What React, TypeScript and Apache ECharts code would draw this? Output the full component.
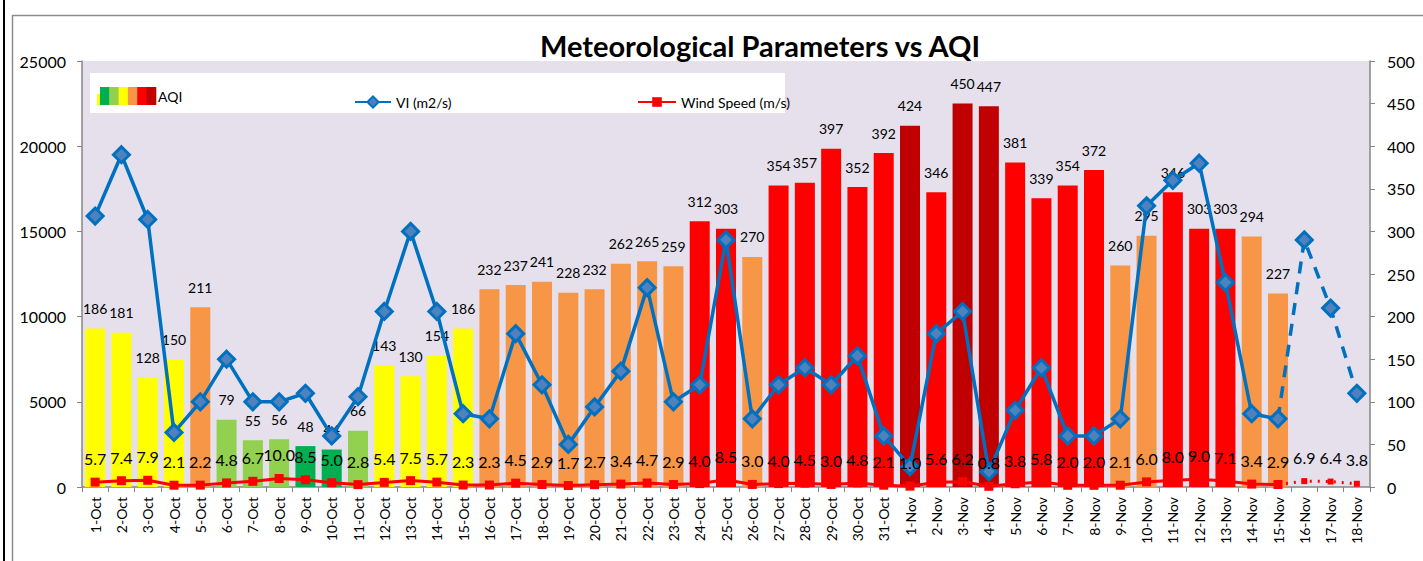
import React, { useEffect, useRef } from "react";
import * as echarts from "echarts";

const dates = [
  "1-Oct", "2-Oct", "3-Oct", "4-Oct", "5-Oct", "6-Oct", "7-Oct", "8-Oct", "9-Oct", "10-Oct",
  "11-Oct", "12-Oct", "13-Oct", "14-Oct", "15-Oct", "16-Oct", "17-Oct", "18-Oct", "19-Oct", "20-Oct",
  "21-Oct", "22-Oct", "23-Oct", "24-Oct", "25-Oct", "26-Oct", "27-Oct", "28-Oct", "29-Oct", "30-Oct",
  "31-Oct", "1-Nov", "2-Nov", "3-Nov", "4-Nov", "5-Nov", "6-Nov", "7-Nov", "8-Nov", "9-Nov",
  "10-Nov", "11-Nov", "12-Nov", "13-Nov", "14-Nov", "15-Nov", "16-Nov", "17-Nov", "18-Nov",
];

const aqi: (number | null)[] = [
  186, 181, 128, 150, 211, 79, 55, 56, 48, 44,
  66, 143, 130, 154, 186, 232, 237, 241, 228, 232,
  262, 265, 259, 312, 303, 270, 354, 357, 397, 352,
  392, 424, 346, 450, 447, 381, 339, 354, 372, 260,
  295, 346, 303, 303, 294, 227, null, null, null,
];

const vi = [
  15900, 19500, 15700, 3200, 5000, 7500, 5000, 5000, 5500, 3000,
  5300, 10300, 15000, 10300, 4300, 4000, 9000, 6000, 2500, 4700,
  6800, 11700, 5000, 6000, 14500, 4000, 6000, 7000, 6000, 7700,
  3000, 1200, 9000, 10300, 900, 4500, 7000, 3000, 3000, 4000,
  16500, 18000, 19000, 12000, 4300, 4000, 14500, 10500, 5500,
];

const wind = [
  5.7, 7.4, 7.9, 2.1, 2.2, 4.8, 6.7, 10.0, 8.5, 5.0,
  2.8, 5.4, 7.5, 5.7, 2.3, 2.3, 4.5, 2.9, 1.7, 2.7,
  3.4, 4.7, 2.9, 4.0, 8.5, 3.0, 4.0, 4.5, 3.0, 4.8,
  2.1, 1.0, 5.6, 6.2, 0.8, 3.8, 5.8, 2.0, 2.0, 2.1,
  6.0, 8.0, 9.0, 7.1, 3.4, 2.9, 6.9, 6.4, 3.8,
];

// index of the last observed day (15-Nov); later days are forecast
const lastObserved = 45;

const leftTicks = { min: 0, max: 25000, interval: 5000 };
const rightTicks = { min: 0, max: 500, interval: 50 };

const aqiColors = ["#00B050", "#92D050", "#FFFF00", "#F79646", "#FF0000", "#C00000"];
function aqiColor(v: number): string {
  if (v <= 50) return aqiColors[0];
  if (v <= 100) return aqiColors[1];
  if (v <= 200) return aqiColors[2];
  if (v <= 300) return aqiColors[3];
  if (v <= 400) return aqiColors[4];
  return aqiColors[5];
}

const FONT = "Lato, 'Open Sans', sans-serif";

export default function App() {
  const ref = useRef<HTMLDivElement>(null);
  useEffect(() => {
    if (!ref.current) return;
    const chart = echarts.init(ref.current, null, { renderer: "svg" });

    const barData = aqi.map((v) =>
      v == null ? null : { value: v, itemStyle: { color: aqiColor(v) } }
    );
    const viSolid = vi.map((v, i) => (i <= lastObserved ? v : null));
    const viDash = vi.map((v, i) =>
      i < lastObserved ? null : i === lastObserved ? { value: v, symbol: "none" } : v
    );
    const windSolid = wind.map((v, i) => (i <= lastObserved ? v : null));
    const windDot = wind.map((v, i) =>
      i < lastObserved
        ? null
        : i === lastObserved
        ? { value: v, symbol: "none", label: { show: false } }
        : v
    );

    const swatchX = 100;
    const swatchW = 9.3;
    const swatches = aqiColors.map((c, k) => ({
      type: "rect",
      z: 5,
      shape: { x: swatchX + k * swatchW, y: 87, width: swatchW + 0.5, height: 18 },
      style: { fill: c },
    }));

    const option: any = {
      animation: false,
      textStyle: { fontFamily: FONT },
      grid: {
        left: 82,
        right: 53,
        top: 61,
        bottom: 74,
        show: true,
        backgroundColor: "#E5E0EC",
        borderWidth: 0,
      },
      legend: [
        {
          data: ["VI (m2/s)"],
          left: 349,
          top: 90,
          itemWidth: 36,
          itemHeight: 14,
          itemGap: 5,
          textStyle: { fontSize: 14, color: "#000", fontFamily: FONT },
          z: 6,
        },
        {
          data: ["Wind Speed (m/s)"],
          left: 632,
          top: 90,
          itemWidth: 38,
          itemHeight: 12,
          textStyle: { fontSize: 14, color: "#000", fontFamily: FONT },
          z: 6,
        },
      ],
      graphic: [
        {
          type: "line",
          z: 10,
          shape: { x1: 4, y1: 0, x2: 4, y2: 561 },
          style: { stroke: "#000", lineWidth: 2 },
        },
        {
          type: "rect",
          z: 0,
          shape: { x: 12.5, y: 15.5, width: 1430, height: 560 },
          style: { fill: "none", stroke: "#8C8C8C", lineWidth: 1.5 },
        },
        {
          type: "text",
          z: 10,
          x: 760,
          y: 31,
          style: {
            text: "Meteorological Parameters vs AQI",
            fontSize: 29,
            fontWeight: "bold",
            fontFamily: FONT,
            fill: "#000",
            textAlign: "center",
          },
        },
        {
          type: "rect",
          z: 1,
          shape: { x: 90, y: 73, width: 695, height: 40 },
          style: { fill: "#FFFFFF" },
        },
        {
          type: "rect",
          z: 5,
          shape: { x: 97, y: 94, width: 3, height: 11 },
          style: { fill: "#FFFF00" },
        },
        ...swatches,
        {
          type: "text",
          z: 5,
          x: 158,
          y: 96,
          style: {
            text: "AQI",
            fontSize: 14,
            fontFamily: FONT,
            fill: "#000",
            textVerticalAlign: "middle",
          },
        },
      ],
      xAxis: {
        type: "category",
        data: dates,
        axisLine: { lineStyle: { color: "#868686", width: 1.5 } },
        axisTick: { show: true, length: 5, lineStyle: { color: "#868686" } },
        axisLabel: {
          rotate: 90,
          interval: 0,
          fontSize: 14,
          color: "#000",
          margin: 10,
          fontFamily: FONT,
        },
      },
      yAxis: [
        {
          type: "value",
          ...leftTicks,
          position: "left",
          splitLine: { show: false },
          axisLine: { show: true, lineStyle: { color: "#868686", width: 1.5 } },
          axisTick: { show: true, length: 5, lineStyle: { color: "#868686" } },
          axisLabel: {
            fontSize: 16,
            color: "#000",
            margin: 16,
            fontFamily: FONT,
            formatter: (v: number) => String(v),
          },
        },
        {
          type: "value",
          ...rightTicks,
          position: "right",
          splitLine: { show: false },
          axisLine: { show: true, lineStyle: { color: "#868686", width: 1.5 } },
          axisTick: { show: true, length: 5, lineStyle: { color: "#868686" } },
          axisLabel: {
            fontSize: 16,
            color: "#000",
            margin: 17,
            fontFamily: FONT,
            formatter: (v: number) => String(v),
          },
        },
      ],
      series: [
        {
          name: "AQI",
          type: "bar",
          yAxisIndex: 1,
          data: barData,
          barWidth: 20,
          z: 2,
          label: {
            show: true,
            position: "top",
            distance: 13,
            fontSize: 14,
            color: "#000",
            fontFamily: FONT,
          },
        },
        {
          name: "VI (m2/s)",
          type: "line",
          yAxisIndex: 0,
          data: viSolid,
          z: 4,
          symbol: "diamond",
          symbolSize: 16,
          lineStyle: { color: "#0070C0", width: 3.5 },
          itemStyle: { color: "#4F81BD", borderColor: "#0070C0", borderWidth: 3 },
        },
        {
          name: "VI forecast",
          type: "line",
          yAxisIndex: 0,
          data: viDash,
          z: 4,
          symbol: "diamond",
          symbolSize: 16,
          lineStyle: { color: "#0070C0", width: 3.5, type: [12, 9] },
          itemStyle: { color: "#4F81BD", borderColor: "#0070C0", borderWidth: 3 },
        },
        {
          name: "Wind Speed (m/s)",
          type: "line",
          yAxisIndex: 1,
          data: windSolid,
          z: 5,
          symbol: "rect",
          symbolSize: 9,
          lineStyle: { color: "#FF0000", width: 3 },
          itemStyle: { color: "#FF0000" },
          label: {
            show: true,
            position: "top",
            distance: 11,
            fontSize: 16,
            color: "#000",
            fontFamily: FONT,
            formatter: (p: any) => Number(p.value).toFixed(1),
          },
        },
        {
          name: "Wind forecast",
          type: "line",
          yAxisIndex: 1,
          data: windDot,
          z: 5,
          symbol: "rect",
          symbolSize: 6,
          lineStyle: { color: "#FF0000", width: 3, type: [2, 6] },
          itemStyle: { color: "#FF0000" },
          label: {
            show: true,
            position: "top",
            distance: 13,
            fontSize: 16,
            color: "#000",
            fontFamily: FONT,
            formatter: (p: any) => Number(p.value).toFixed(1),
          },
        },
      ],
    };

    chart.setOption(option);
    return () => chart.dispose();
  }, []);

  return (
    <div
      ref={ref}
      style={{ position: "fixed", left: 0, top: 0, width: 1423, height: 561, background: "#fff" }}
    />
  );
}
